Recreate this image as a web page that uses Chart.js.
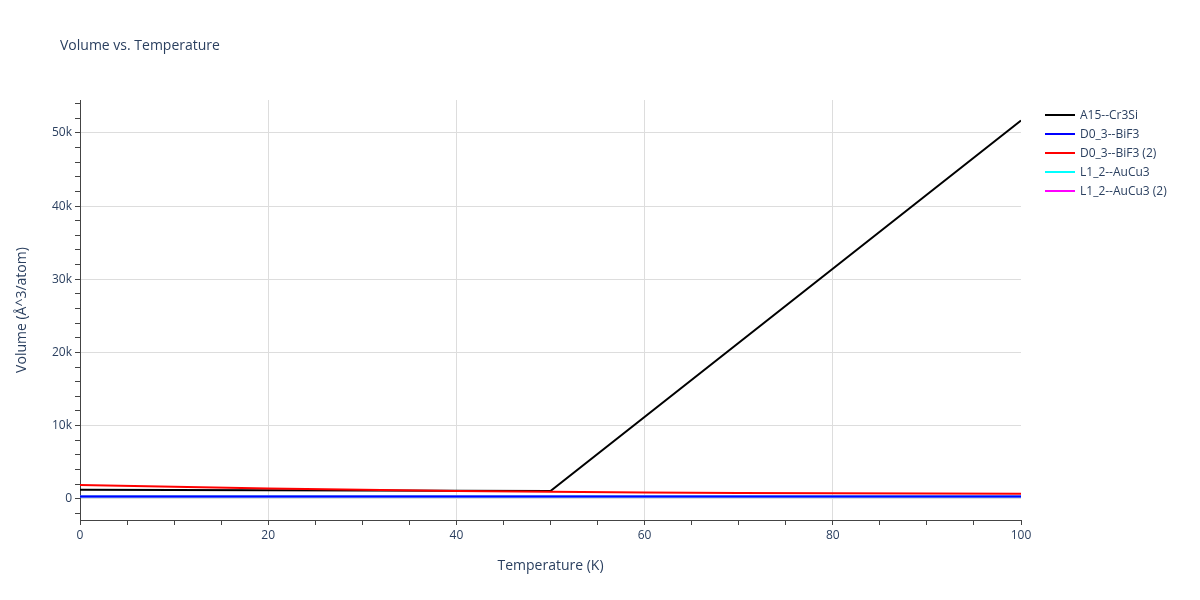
<!DOCTYPE html>
<html><head><meta charset="utf-8">
<script src="https://cdn.jsdelivr.net/npm/chart.js@4"></script>
<style>
body{margin:0;font-family:"Open Sans",sans-serif;color:#2a3f5f;}
#wrap{position:relative;width:1200px;height:600px;}
#title{position:absolute;left:60px;top:35px;font-size:14px;color:#2a3f5f;}
#legend{position:absolute;left:1045px;top:105px;font-size:12px;}
#legend div{height:19px;display:flex;align-items:center;}
#legend span.l{display:inline-block;width:30px;height:2px;margin-right:5px;}
</style></head><body>
<div id="wrap"><canvas id="c" width="1200" height="600"></canvas>
<div id="title">Volume vs. Temperature</div><div id="legend"></div></div>
<script>
const seriesNames=["A15--Cr3Si","D0_3--BiF3","D0_3--BiF3 (2)","L1_2--AuCu3","L1_2--AuCu3 (2)"];
const colors=["#000000","#0000ff","#ff0000","#00ffff","#ff00ff"];
const tempA15=[0,50,100];
const volA15=[1250,1050,51700];
const tempOther=[0,10,20,30,40,50,60,70,80,90,100];
const volBiF3=[300,300,300,300,300,300,300,300,300,300,300];
const volBiF3b=[1900,1650,1420,1230,1080,950,860,800,750,710,680];
const volAuCu3=[300,300,300,300,300,300,300,300,300,300,300];
const volAuCu3b=[300,300,300,300,300,300,300,300,300,300,300];
const toXY=(xs,ys)=>xs.map((x,i)=>({x,y:ys[i]}));
const dataSets=[toXY(tempA15,volA15),toXY(tempOther,volBiF3),toXY(tempOther,volBiF3b),toXY(tempOther,volAuCu3),toXY(tempOther,volAuCu3b)];
const order=[2,0,1,3,4];
const ds=order.map(i=>({label:seriesNames[i],data:dataSets[i],borderColor:colors[i],borderWidth:2,pointRadius:0,fill:false,tension:0}));
const lg=document.getElementById('legend');
seriesNames.forEach((n,i)=>{lg.innerHTML+=`<div><span class="l" style="background:${colors[i]}"></span>${n}</div>`;});
const font={family:"Open Sans",size:12};
new Chart(document.getElementById('c'),{type:'line',data:{datasets:ds},
options:{responsive:false,animation:false,
layout:{padding:{left:10,right:179,top:100,bottom:22}},
plugins:{legend:{display:false},tooltip:{enabled:false}},
scales:{
x:{type:'linear',min:0,max:100,
 afterFit:s=>{s.height=58;},
 title:{display:true,text:'Temperature (K)',color:'#2a3f5f',font:{family:"Open Sans",size:14},padding:{top:10}},
 ticks:{stepSize:5,color:'#2a3f5f',font,callback:v=>v%20===0?v:''},
 grid:{color:c=>c.tick&&c.tick.value%20===0&&c.tick.value>0&&c.tick.value<100?'#dddddd':'rgba(0,0,0,0)',tickColor:'#444',tickLength:5,drawTicks:true},
 border:{color:'#444',width:1}},
y:{min:-2900,max:54500,
 afterFit:s=>{s.width=70;},
 afterBuildTicks:s=>{const t=[];for(let v=-2000;v<=54000;v+=2000)t.push({value:v});s.ticks=t;},
 title:{display:true,text:'Volume (Å^3/atom)',color:'#2a3f5f',font:{family:"Open Sans",size:14}},
 ticks:{color:'#2a3f5f',font,autoSkip:false,callback:v=>v%10000===0?(v===0?'0':(v/1000)+'k'):''},
 grid:{color:c=>c.tick&&c.tick.value%10000===0?'#dddddd':'rgba(0,0,0,0)',tickColor:'#444',tickLength:5},
 border:{color:'#444',width:1}}
}}});
</script></body></html>
